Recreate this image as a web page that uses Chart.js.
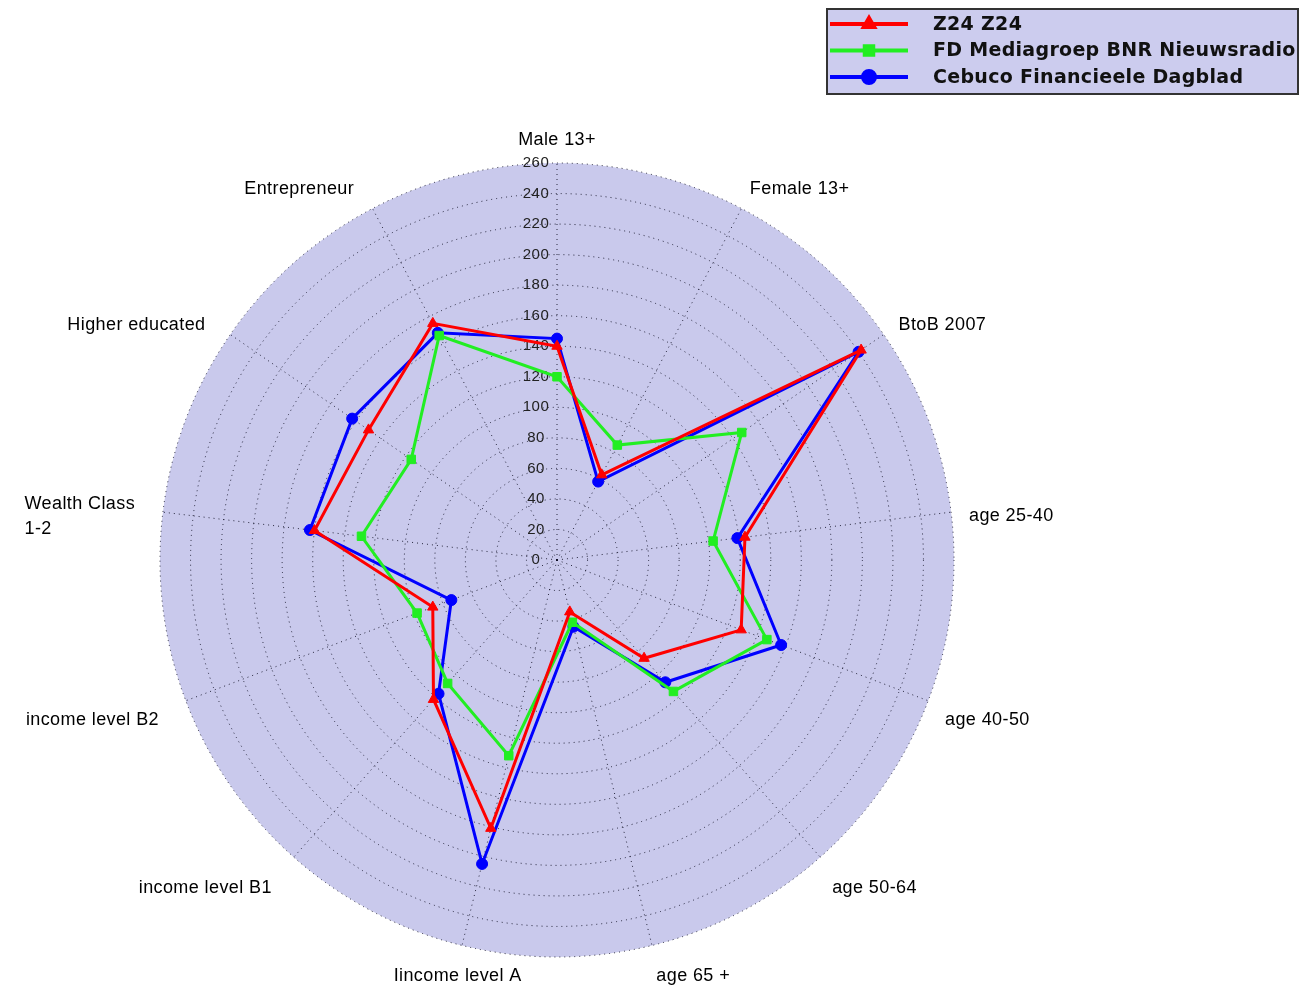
<!DOCTYPE html>
<html>
<head>
<meta charset="utf-8">
<script src="https://cdn.jsdelivr.net/npm/chart.js@4/dist/chart.umd.min.js"></script>
<style>
  body { margin: 0; background: #fff; }
  #radar { display: block; }
</style>
</head>
<body>
<canvas id="radar" width="1306" height="990"></canvas>
<script>
const categories = [
  'Male 13+', 'Female 13+', 'BtoB 2007', 'age 25-40', 'age 40-50', 'age 50-64',
  'age 65 +', 'Iincome level A', 'income level B1', 'income level B2',
  ['Wealth Class', '1-2'], 'Higher educated', 'Entrepreneur'
]
const seriesNames = ['Z24 Z24', 'FD Mediagroep BNR Nieuwsradio', 'Cebuco Financieele Dagblad']
const z24 = [140, 63, 242, 124, 129, 86, 35, 181, 122, 87, 160, 150, 175]
const fdMedia = [120, 85, 147, 103, 147, 115, 42, 132, 108, 98, 129, 116, 166]
const cebuco = [145, 58, 240, 119, 157, 107, 45, 205, 117, 74, 163, 163, 168]
const tickValues = [0, 20, 40, 60, 80, 100, 120, 140, 160, 180, 200, 220, 240, 260]

const colors = ['#ff0000', '#22ee22', '#0000ff']
const markers = ['triangle', 'rect', 'circle']
const markerSize = [6, 6, 5.5]

// tick numbers along the top axis, under the lines
const tickLabels = {
  id: 'tickLabels',
  beforeDatasetsDraw(chart) {
    const scale = chart.scales.r
    const ctx = chart.ctx
    ctx.save()
    ctx.font = '15px "Liberation Sans", Arial, sans-serif'
    ctx.letterSpacing = '0.5px'
    ctx.fillStyle = '#222'
    ctx.textAlign = 'center'
    ctx.textBaseline = 'middle'
    tickValues.forEach(v => {
      const r = scale.getDistanceFromCenterForValue(v)
      ctx.fillText(String(v), scale.xCenter - 21, scale.yCenter - r)
    })
    ctx.restore()
  }
}

// category names round the outside
const pointNames = {
  id: 'pointNames',
  afterDraw(chart) {
    const scale = chart.scales.r
    const ctx = chart.ctx
    const lineH = 25
    ctx.save()
    ctx.font = '18px "Liberation Sans", Arial, sans-serif'
    ctx.letterSpacing = '0.4px'
    ctx.fillStyle = '#000'
    ctx.textAlign = 'left'
    ctx.textBaseline = 'middle'
    categories.forEach((label, i) => {
      const lines = Array.isArray(label) ? label : [label]
      const w = Math.max(...lines.map(l => ctx.measureText(l).width))
      const h = lineH * (lines.length - 1)
      const a = i * 2 * Math.PI / categories.length
      const s = Math.sin(a), c = Math.cos(a)
      const p = scale.getPointPosition(i, scale.drawingArea + 18)
      let x = p.x - w / 2
      if (s > 0.1) x = p.x
      else if (s < -0.3) x = p.x - w - 10
      let y = Math.min(p.y + 8 - 13 * c, 976) - h / 2
      lines.forEach((l, k) => ctx.fillText(l, x, y + k * lineH))
    })
    ctx.restore()
  }
}

// boxed legend, top right
const boxLegend = {
  id: 'boxLegend',
  afterDraw(chart) {
    const ctx = chart.ctx
    ctx.save()
    ctx.fillStyle = '#ccccee'
    ctx.fillRect(827, 9, 471, 85)
    ctx.strokeStyle = '#333'
    ctx.lineWidth = 2
    ctx.strokeRect(827, 9, 471, 85)
    ctx.font = 'bold 19px "DejaVu Sans", Verdana, sans-serif'
    ctx.letterSpacing = '0.3px'
    ctx.textBaseline = 'middle'
    seriesNames.forEach((name, i) => {
      const y = 24 + i * 26.5
      ctx.strokeStyle = colors[i]
      ctx.fillStyle = colors[i]
      ctx.lineWidth = 4
      ctx.beginPath()
      ctx.moveTo(830, y)
      ctx.lineTo(908, y)
      ctx.stroke()
      Chart.helpers.drawPoint(ctx, { pointStyle: markers[i], radius: 6, borderWidth: 1 }, 869, y)
      ctx.fill()
      ctx.fillStyle = '#111'
      ctx.fillText(name, 933, y + 1)
    })
    ctx.restore()
  }
}

const makeSet = (label, data, i) => ({
  label: label,
  data: data,
  fill: false,
  borderColor: colors[i],
  backgroundColor: colors[i],
  borderWidth: 3,
  pointStyle: markers[i],
  pointRadius: markerSize[i],
  pointBorderWidth: 1,
  pointBackgroundColor: colors[i],
  pointBorderColor: colors[i],
  tension: 0
})

new Chart(document.getElementById('radar'), {
  type: 'radar',
  data: {
    labels: categories,
    datasets: [
      makeSet(seriesNames[0], z24, 0),
      makeSet(seriesNames[1], fdMedia, 1),
      makeSet(seriesNames[2], cebuco, 2)
    ]
  },
  options: {
    responsive: false,
    animation: false,
    devicePixelRatio: 1,
    layout: { padding: { left: 160, right: 352, top: 163, bottom: 33 } },
    plugins: {
      legend: { display: false },
      tooltip: { enabled: false }
    },
    scales: {
      r: {
        min: 0,
        max: 260,
        backgroundColor: '#c9c9ec',
        ticks: { display: false, stepSize: 20 },
        pointLabels: { display: false },
        grid: { circular: true, color: 'rgba(10,10,30,0.85)', lineWidth: 1 },
        border: { dash: [1, 4] },
        angleLines: { color: 'rgba(10,10,30,0.85)', lineWidth: 1, borderDash: [1, 4] }
      }
    }
  },
  plugins: [tickLabels, pointNames, boxLegend]
})
</script>
</body>
</html>
